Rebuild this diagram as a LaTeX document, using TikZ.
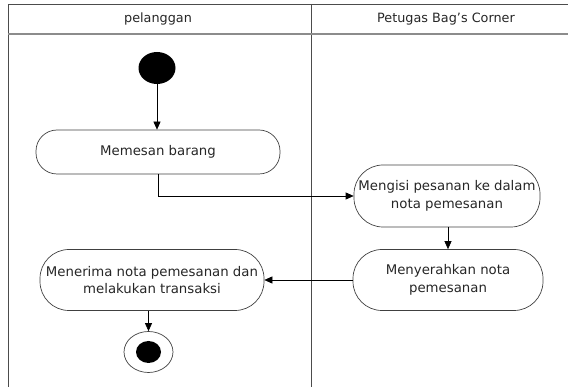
\documentclass[tikz,border=0pt]{standalone}
\usepackage{fontspec}
\setmainfont{DejaVu Sans}
\usetikzlibrary{arrows.meta,shapes.geometric}
\begin{document}
\begin{tikzpicture}[x=1pt,y=-1pt,
  lane/.style={draw=black!70,line width=0.9pt},
  hline/.style={draw=black!45,line width=1.2pt},
  act/.style={draw=black!75,line width=0.7pt,rectangle,inner sep=0pt,align=center,
    font=\fontsize{13.3}{17.5}\selectfont,text=black!85},
  flow/.style={draw=black,line width=0.7pt,-{Triangle[length=8pt,width=7pt]}},
  hdr/.style={font=\fontsize{12.8}{15}\selectfont,text=black!85}]
\useasboundingbox (0,0) rectangle (568,387);
% frame
\draw[lane] (568,4) -- (8,4) -- (8,387);
\draw[lane] (311,4) -- (311,387);
\draw[hline] (8,34) -- (568,34);
\node[hdr] (h1) at (158,19) {pelanggan};
\node[hdr] (h2) at (446,19) {Petugas Bag’s Corner};
% nodes
\node[ellipse,fill=black,minimum width=37pt,minimum height=32pt,inner sep=0pt] (start) at (157,68) {};
\node[act,minimum width=244pt,minimum height=44pt,rounded corners=21pt] (memesan) at (158,152) {Memesan barang};
\node[act,minimum width=186pt,minimum height=62pt,rounded corners=29pt] (mengisi) at (447,196) {Mengisi pesanan ke dalam\\nota pemesanan};
\node[act,minimum width=190pt,minimum height=61pt,rounded corners=29pt] (menyerahkan) at (448,280) {Menyerahkan nota\\pemesanan};
\node[act,minimum width=224pt,minimum height=61pt,rounded corners=29pt] (menerima) at (152,280) {Menerima nota pemesanan dan\\melakukan transaksi};
\node[ellipse,draw=black!75,line width=0.7pt,minimum width=49pt,minimum height=41pt,inner sep=0pt] (end) at (148.5,352) {};
\node[ellipse,fill=black,minimum width=25pt,minimum height=22pt,inner sep=0pt] (endin) at (148.5,352) {};
% flows
\draw[flow] (start.south) -- (start.south |- memesan.north);
\draw[flow] (memesan.south) |- (mengisi.west);
\draw[flow] (mengisi.south -| menyerahkan.north) -- (menyerahkan.north);
\draw[flow] (menyerahkan.west) -- (menerima.east);
\draw[flow] (end.north |- menerima.south) -- (end.north);
\end{tikzpicture}
\end{document}
